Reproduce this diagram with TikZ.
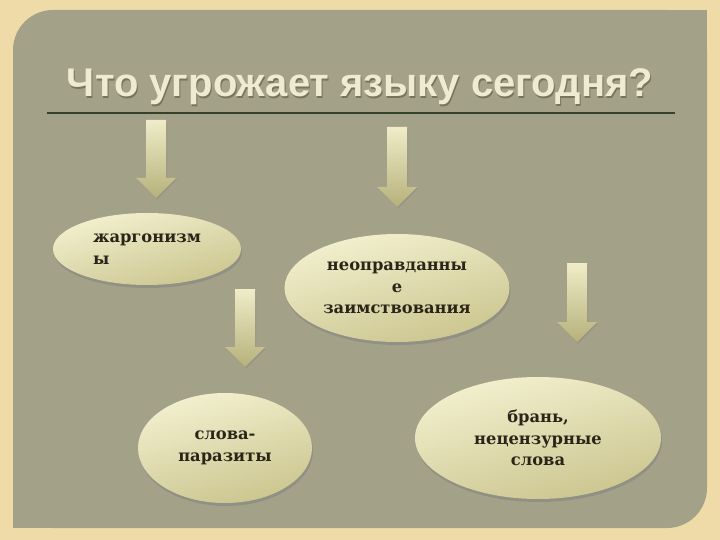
\documentclass[tikz,border=0pt]{standalone}
\usepackage{fontspec}
\setmainfont{DejaVu Serif}
\newfontfamily\titlefont{Liberation Sans}
\usetikzlibrary{shapes.geometric,shadows}

\definecolor{parchment}{HTML}{EFDBA8}
\definecolor{panelgrey}{HTML}{A4A189}
\definecolor{titlecream}{HTML}{EEEBD2}
\definecolor{titleshade}{HTML}{77735E}
\definecolor{rulegreen}{HTML}{34432A}
\definecolor{ovallight}{HTML}{F3F0CF}
\definecolor{ovaldark}{HTML}{CBC58E}
\definecolor{arrlight}{HTML}{EFECC8}
\definecolor{arrdark}{HTML}{B6B17A}
\definecolor{inkbrown}{HTML}{2B2519}

% block arrow: name, x of middle, y of top, y of tip
\newcommand{\blockarrow}[4]{%
  \path[arrowbody] (#2-10,#3) coordinate (#1)
    -- (#2+10,#3) -- (#2+10,#4-20) -- (#2+20,#4-20)
    -- (#2,#4) coordinate (#1 tip) -- (#2-20,#4-20) -- (#2-10,#4-20) -- cycle;}

\begin{document}
\begin{tikzpicture}[x=1pt,y=-1pt]
  \tikzset{
    arrowbody/.style={top color=arrlight,bottom color=arrdark,
      drop shadow={shadow xshift=1pt,shadow yshift=-1.5pt,opacity=0.35}},
    oval/.style={ellipse,inner sep=0pt,top color=ovallight,bottom color=ovaldark,
      shading angle=15,text=inkbrown,align=center,
      font=\bfseries\fontsize{16.3}{21.5}\selectfont,
      drop shadow={shadow xshift=1pt,shadow yshift=-3pt,opacity=0.5}},
    heading/.style={font=\titlefont\bfseries\fontsize{40}{44}\selectfont,anchor=base}
  }
  \useasboundingbox (0,0) rectangle (720,540);
  \fill[parchment] (0,0) rectangle (720,540);
  % panel with two rounded corners
  \fill[panelgrey,rounded corners=40pt] (13,10) rectangle (707,528);
  \fill[panelgrey] (660,10) rectangle (707,60);
  \fill[panelgrey] (13,478) rectangle (60,528);

  \node[heading,text=titleshade] (title shadow) at (361,98.5) {Что угрожает языку сегодня?};
  \node[heading,text=titlecream] (title) at (360,97) {Что угрожает языку сегодня?};
  \coordinate (rule left) at (47,113);
  \coordinate (rule right) at (675,113);
  \draw[rulegreen,line width=1.2pt] (rule left) -- (rule right);

  \blockarrow{arrow1}{156}{120}{198}
  \blockarrow{arrow2}{397}{127}{207}
  \blockarrow{arrow3}{245}{289}{367}
  \blockarrow{arrow4}{577}{263}{342}

  \node[oval,minimum width=188pt,minimum height=72pt,align=left] (jargon) at (147,249)
    {жаргонизм\\ы};
  \node[oval,minimum width=225pt,minimum height=108pt] (borrow) at (397,288)
    {неоправданны\\е\\заимствования};
  \node[oval,minimum width=174pt,minimum height=110pt] (fillers) at (225,448)
    {слова-\\паразиты};
  \node[oval,minimum width=246pt,minimum height=122pt] (swear) at (538,438)
    {брань,\\нецензурные\\слова};
\end{tikzpicture}
\end{document}
